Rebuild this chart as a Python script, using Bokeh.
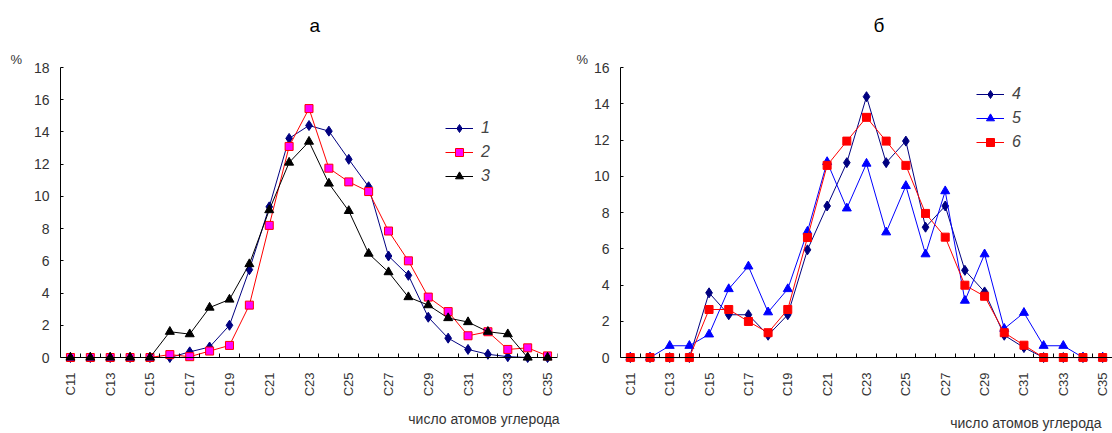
import numpy as np
from bokeh.plotting import figure
from bokeh.models import Range1d, FixedTicker, Legend, LegendItem, LinearAxis, Title
from bokeh.layouts import row
from bokeh.embed import file_html
from bokeh.resources import INLINE

# ---------------- data ----------------
categories = ["C11", "C12", "C13", "C14", "C15", "C16", "C17", "C18", "C19", "C20",
              "C21", "C22", "C23", "C24", "C25", "C26", "C27", "C28", "C29", "C30",
              "C31", "C32", "C33", "C34", "C35"]
tick_labels = categories[::2]

# panel "а"
s1 = [0, 0, 0, 0, 0, 0, 0.35, 0.65, 2.0, 5.45, 9.35, 13.6, 14.4, 14.05, 12.3,
      10.6, 6.3, 5.1, 2.5, 1.2, 0.5, 0.2, 0.05, 0, 0]
s2 = [0, 0, 0, 0, 0, 0.18, 0.05, 0.4, 0.75, 3.25, 8.2, 13.1, 15.45, 11.75, 10.9,
      10.3, 7.85, 6.0, 3.75, 2.85, 1.35, 1.6, 0.5, 0.6, 0.1]
s3 = [0, 0, 0, 0, 0, 1.6, 1.45, 3.1, 3.6, 5.8, 9.15, 12.1, 13.4, 10.8, 9.1,
      6.45, 5.3, 3.75, 3.25, 2.45, 2.2, 1.6, 1.45, 0, 0]

# panel "б"
s4 = [0, 0, 0, 0, 3.57, 2.36, 2.36, 1.23, 2.36, 5.94, 8.36, 10.75, 14.39, 10.75, 11.94,
      7.19, 8.36, 4.81, 3.62, 1.23, 0.55, 0, 0, 0, 0]
s5 = [0, 0, 0.65, 0.65, 1.28, 3.78, 5.03, 2.5, 3.78, 6.95, 10.79, 8.23, 10.7, 6.91, 9.47,
      5.7, 9.18, 3.14, 5.7, 1.59, 2.47, 0.65, 0.65, 0, 0]
s6 = [0, 0, 0, 0, 2.65, 2.65, 1.99, 1.37, 2.65, 6.62, 10.6, 11.94, 13.25, 11.94, 10.6,
      7.95, 6.64, 3.99, 3.38, 1.37, 0.68, 0, 0, 0, 0]

titles = ["а", "б"]
x_title = "число атомов углерода"
y_title = "%"
legend_a = ["1", "2", "3"]
legend_b = ["4", "5", "6"]

FONT = "Liberation Sans"
TXT = "#333333"
H = 433
PAD_PX = 10

xs = list(range(1, len(categories) + 1))


def make_panel(width, ymax, frame_h, b_left, b_right, b_top, b_bottom,
               title, title_off, pct_off, xt_center, xt_standoff):
    pad_units = PAD_PX * ymax / (frame_h - PAD_PX)
    p = figure(width=width, height=H, output_backend="svg", toolbar_location=None,
               x_range=Range1d(0.5, len(xs) + 0.5), y_range=Range1d(-pad_units, ymax),
               min_border_left=b_left, min_border_right=b_right,
               min_border_top=b_top, min_border_bottom=b_bottom)
    p.outline_line_color = None
    p.xgrid.visible = False
    p.ygrid.visible = False
    p.background_fill_color = "white"
    p.border_fill_color = "white"

    # labels-only category axis at the frame bottom
    xa = p.xaxis[0]
    xa.ticker = FixedTicker(ticks=[xs[i] for i in range(0, len(xs), 2)], minor_ticks=[])
    xa.major_label_overrides = {xs[i]: categories[i] for i in range(0, len(xs), 2)}
    xa.major_label_orientation = np.pi / 2
    xa.major_tick_in = 0
    xa.major_tick_out = 0
    xa.major_tick_line_color = None
    xa.minor_tick_line_color = None
    xa.axis_line_color = None
    xa.major_label_standoff = 15 - PAD_PX
    xa.major_label_text_font = FONT
    xa.major_label_text_font_size = "13px"
    xa.major_label_text_color = TXT

    # x axis title, drawn as the single label of a bare axis below the category labels
    xt = LinearAxis(ticker=FixedTicker(ticks=[xt_center], minor_ticks=[]),
                    major_label_overrides={xt_center: x_title},
                    major_label_orientation="horizontal",
                    axis_line_color=None, major_tick_line_color=None,
                    minor_tick_line_color=None, major_tick_in=0, major_tick_out=0,
                    minor_tick_in=0, minor_tick_out=0,
                    major_label_standoff=xt_standoff,
                    major_label_text_font=FONT, major_label_text_font_size="14px",
                    major_label_text_color=TXT)
    p.add_layout(xt, "below")

    # axis line with category boundary ticks at y = 0
    xb = LinearAxis(ticker=FixedTicker(ticks=[], minor_ticks=[x + 0.5 for x in range(0, len(xs) + 1)]),
                    fixed_location=0, axis_line_color="black",
                    minor_tick_in=4, minor_tick_out=0, minor_tick_line_color="black",
                    major_tick_in=0, major_tick_out=0, major_label_standoff=0,
                    major_label_text_font_size="1px")
    p.add_layout(xb, "below")

    ya = p.yaxis[0]
    ya.ticker = FixedTicker(ticks=list(range(0, ymax + 1, 2)))
    ya.bounds = (0, ymax)
    ya.major_tick_in = 3
    ya.major_tick_out = 0
    ya.minor_tick_line_color = None
    ya.axis_line_color = "black"
    ya.major_tick_line_color = "black"
    ya.major_label_standoff = 11
    ya.major_label_text_font = FONT
    ya.major_label_text_font_size = "14px"
    ya.major_label_text_color = TXT

    # "%" just above the frame, then the panel title
    p.add_layout(Title(text=y_title, align="left", offset=pct_off, standoff=1,
                       text_font=FONT, text_font_size="13px", text_font_style="normal",
                       text_color=TXT), "above")
    p.add_layout(Title(text=title, align="left", offset=title_off, standoff=24,
                       vertical_align="top",
                       text_font=FONT, text_font_size="19px", text_font_style="normal",
                       text_color="black"), "above")
    return p


def add_series(p, ys, color, marker, size, fill=None):
    lr = p.line(xs, ys, line_color=color, line_width=1)
    sr = p.scatter(xs, ys, marker=marker, size=size, line_color=color,
                   fill_color=fill if fill else color, line_width=1)
    return [lr, sr]


def add_legend(p, items, loc):
    lg = Legend(items=items, location=loc, padding=0, margin=0, spacing=4,
                glyph_width=28, glyph_height=20, label_height=20, label_standoff=8,
                border_line_color=None, background_fill_alpha=0,
                label_text_font=FONT, label_text_font_size="16px",
                label_text_font_style="italic", label_text_color="#444444")
    p.add_layout(lg, "center")


# ---------------- panel а ----------------
pa = make_panel(560, 18, 300, 60, 3, 67, 66,
                titles[0], 249, -50, 21.8, 11)
r1 = add_series(pa, s1, "#000080", "diamond", 10)
r2 = add_series(pa, s2, "#FF0000", "square", 8, fill="#FF00FF")
r3 = add_series(pa, s3, "#000000", "triangle", 9)
add_legend(pa, [LegendItem(label=legend_a[0], renderers=r1),
                LegendItem(label=legend_a[1], renderers=r2),
                LegendItem(label=legend_a[2], renderers=r3)], (385, 181))

# ---------------- panel б ----------------
pb = make_panel(552, 16, 301, 60, 0, 67, 65,
                titles[1], 253, -44, 21.1, 15)
r4 = add_series(pb, s4, "#000080", "diamond", 10)
r5 = add_series(pb, s5, "#0000FF", "triangle", 9)
r6 = add_series(pb, s6, "#FF0000", "square", 8)
add_legend(pb, [LegendItem(label=legend_b[0], renderers=r4),
                LegendItem(label=legend_b[1], renderers=r5),
                LegendItem(label=legend_b[2], renderers=r6)], (356, 215))

layout = row(pa, pb)
open("out.html", "w").write(file_html(layout, INLINE))
